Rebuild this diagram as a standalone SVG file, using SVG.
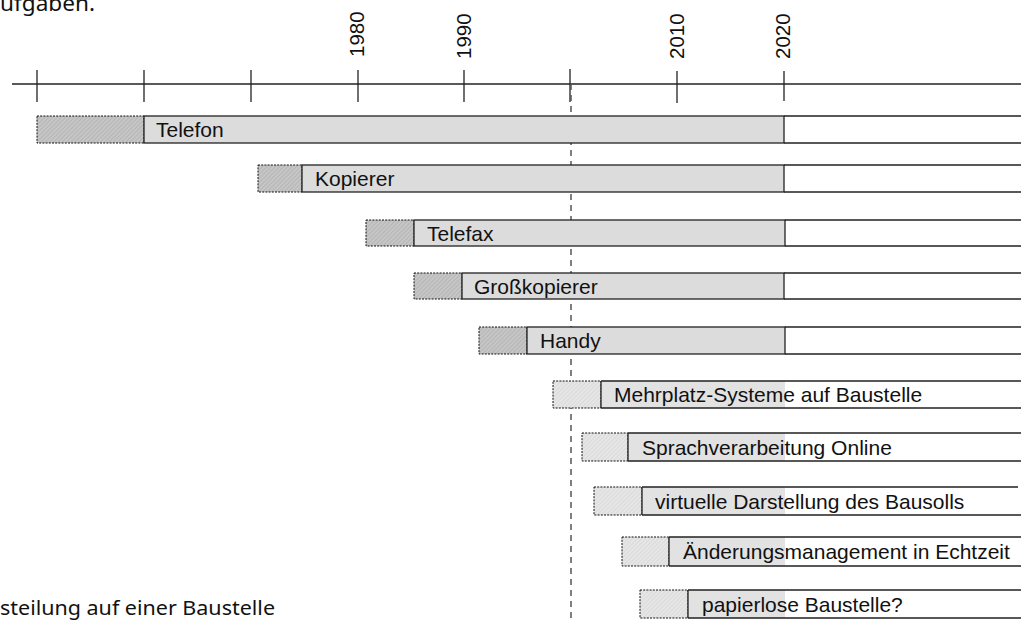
<svg xmlns="http://www.w3.org/2000/svg" width="1021" height="621" viewBox="0 0 1021 621">
<style>
.lbl{font-family:"Liberation Sans",Arial,sans-serif;font-size:21px;fill:#111}
.yr{font-family:"Liberation Sans",Arial,sans-serif;font-size:20.5px;fill:#111}
.cap{font-family:"Noto Sans","Open Sans",sans-serif;fill:#111}
.hd{fill:url(#hatchDark);stroke:#111;stroke-width:1;stroke-dasharray:2 1.2}
.hl{fill:url(#hatchLight);stroke:#111;stroke-width:1;stroke-dasharray:2 1.2}
.gr{fill:#dcdcdc;stroke:#222;stroke-width:1.3}
.ln{stroke:#222;stroke-width:1.3;fill:none}
.ax{stroke:#222;stroke-width:1.3;fill:none}
</style>
<defs>
<pattern id="hatchDark" width="3" height="3" patternUnits="userSpaceOnUse" patternTransform="rotate(45)">
<rect width="3" height="3" fill="#c6c6c6"/>
<line x1="0" y1="0" x2="0" y2="3" stroke="#a9a9a9" stroke-width="1.2"/>
</pattern>
<pattern id="hatchLight" width="3" height="3" patternUnits="userSpaceOnUse" patternTransform="rotate(45)">
<rect width="3" height="3" fill="#e6e6e6"/>
<line x1="0" y1="0" x2="0" y2="3" stroke="#d2d2d2" stroke-width="1.2"/>
</pattern>
</defs>
<rect width="1021" height="621" fill="#fff"/>
<text class="cap" x="0" y="11" font-size="21" textLength="95" lengthAdjust="spacingAndGlyphs">ufgaben.</text>
<text class="cap" x="0" y="615" font-size="19" textLength="275" lengthAdjust="spacingAndGlyphs">steilung auf einer Baustelle</text>
<g id="axis">
<line class="ax" x1="12" y1="84" x2="1021" y2="84"/>
<line class="ax" x1="37" y1="70" x2="37" y2="102"/>
<line class="ax" x1="144" y1="70" x2="144" y2="102"/>
<line class="ax" x1="251" y1="70" x2="251" y2="102"/>
<line class="ax" x1="358" y1="70" x2="358" y2="102"/>
<line class="ax" x1="464" y1="70" x2="464" y2="102"/>
<line class="ax" x1="570" y1="69" x2="570" y2="102"/>
<line class="ax" x1="677" y1="71" x2="677" y2="103"/>
<line class="ax" x1="784" y1="71" x2="784" y2="101"/>
<text class="yr" transform="translate(364,57) rotate(-90)">1980</text>
<text class="yr" transform="translate(471,59) rotate(-90)">1990</text>
<text class="yr" transform="translate(684,59) rotate(-90)">2010</text>
<text class="yr" transform="translate(790,59) rotate(-90)">2020</text>
</g>
<g id="connectors">
<line x1="571" y1="84" x2="571" y2="621" stroke="#555" stroke-width="1.5" stroke-dasharray="6 5"/>
</g>
<g id="telefon">
<rect class="hd" x="37" y="116" width="107" height="27"/>
<rect class="gr" x="144" y="116" width="640" height="27"/>
<path class="ln" d="M784 116H1021M784 143H1021"/>
<text class="lbl" x="156" y="137">Telefon</text>
</g>
<g id="kopierer">
<rect class="hd" x="258" y="165" width="44" height="27"/>
<rect class="gr" x="302" y="165" width="482" height="27"/>
<path class="ln" d="M784 165H1021M784 192H1021"/>
<text class="lbl" x="315" y="186">Kopierer</text>
</g>
<g id="telefax">
<rect class="hd" x="366" y="220" width="48" height="26"/>
<rect class="gr" x="414" y="220" width="371" height="26"/>
<path class="ln" d="M785 220H1021M785 246H1021"/>
<text class="lbl" x="427" y="240.5">Telefax</text>
</g>
<g id="grosskopierer">
<rect class="hd" x="414" y="273" width="48" height="26"/>
<rect class="gr" x="462" y="273" width="322" height="26"/>
<path class="ln" d="M784 273H1021M784 299H1021"/>
<text class="lbl" x="474" y="293.5">Großkopierer</text>
</g>
<g id="handy">
<rect class="hd" x="479" y="327" width="48" height="27"/>
<rect class="gr" x="527" y="327" width="258" height="27"/>
<path class="ln" d="M785 327H1021M785 354H1021"/>
<text class="lbl" x="540" y="348">Handy</text>
</g>
<g id="mehrplatz">
<rect class="hl" x="553" y="381" width="48" height="27"/>
<path d="M601 381H785V408H601Z" fill="#e2e2e2"/>
<path class="ln" d="M601 381V408M601 381H1021M601 408H1021"/>
<text class="lbl" x="614" y="402">Mehrplatz-Systeme auf Baustelle</text>
</g>
<g id="sprachverarbeitung">
<rect class="hl" x="582" y="433" width="46" height="28"/>
<path d="M628 433H785V461H628Z" fill="#e2e2e2"/>
<path class="ln" d="M628 433V461M628 433H1021M628 461H1021"/>
<text class="lbl" x="642" y="454.5">Sprachverarbeitung Online</text>
</g>
<g id="virtuelle">
<rect class="hl" x="594" y="487" width="48" height="28"/>
<path d="M642 487H785V515H642Z" fill="#e2e2e2"/>
<path class="ln" d="M642 487V515M642 487H1018M642 515H1021"/>
<text class="lbl" x="655" y="508.5">virtuelle Darstellung des Bausolls</text>
</g>
<g id="aenderungsmanagement">
<rect class="hl" x="622" y="537" width="47" height="29"/>
<path d="M669 537H785V566H669Z" fill="#e2e2e2"/>
<path class="ln" d="M669 537V566M669 537H1021M669 566H1021"/>
<text class="lbl" x="683" y="559">Änderungsmanagement in Echtzeit</text>
</g>
<g id="papierlos">
<rect class="hl" x="640" y="590" width="48" height="28"/>
<path d="M688 590H785V618H688Z" fill="#e2e2e2"/>
<path class="ln" d="M688 590V618M688 590H1021M688 618H1021"/>
<text class="lbl" x="702" y="611.5">papierlose Baustelle?</text>
</g>
</svg>
